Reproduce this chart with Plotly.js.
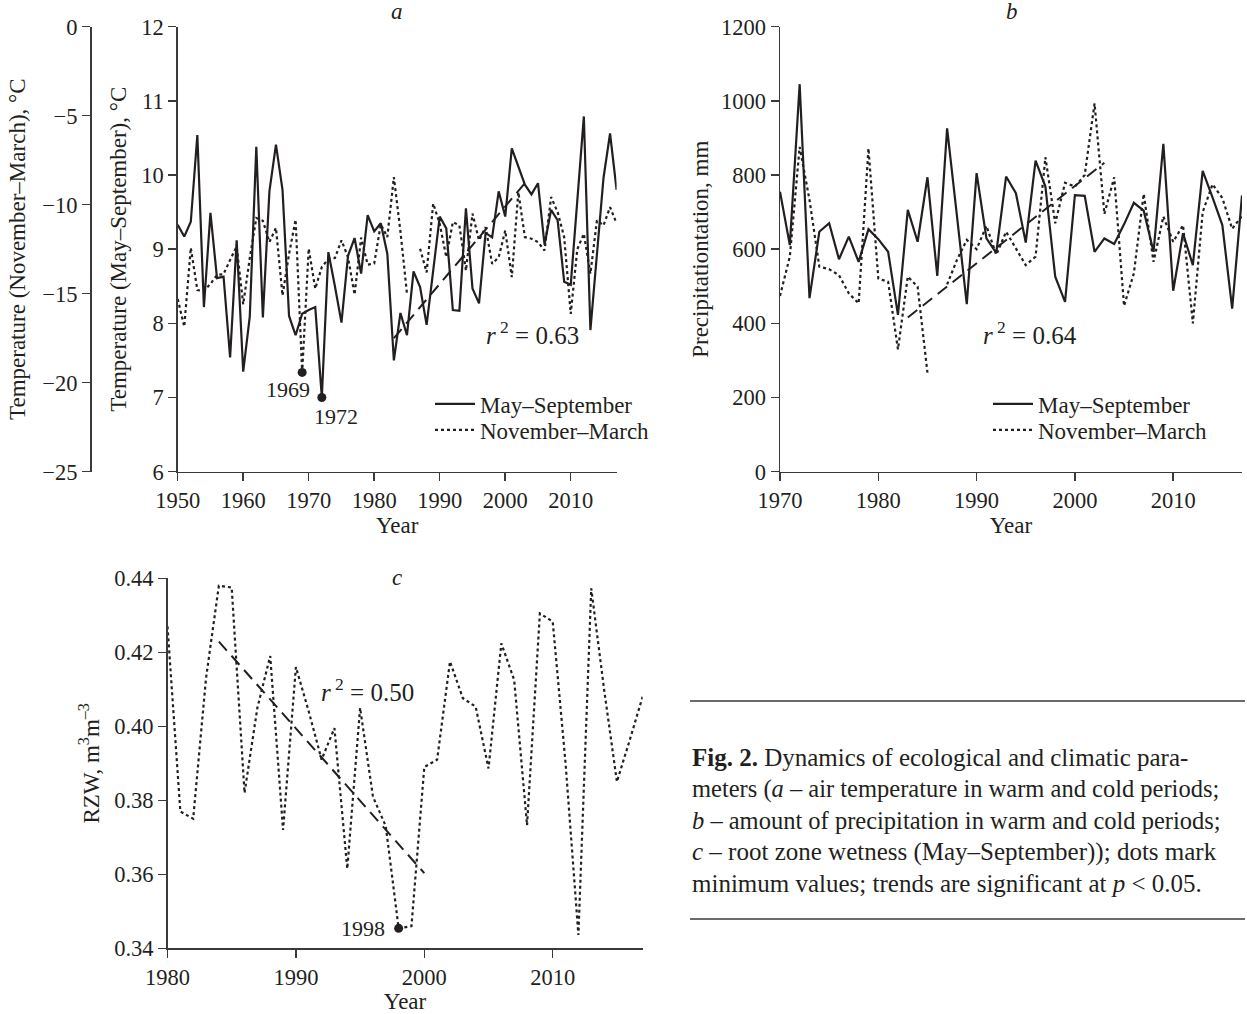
<!DOCTYPE html>
<html>
<head>
<meta charset="utf-8">
<script src="https://cdn.plot.ly/plotly-3.0.1.min.js"></script>
<style>html,body{margin:0;padding:0;background:#fff;}#chart{width:1247px;height:1014px;}</style>
</head>
<body>
<div id="chart"></div>
<script>
// ---------- Panel a: air temperature ----------
const yearsA = [1950,1951,1952,1953,1954,1955,1956,1957,1958,1959,1960,1961,1962,1963,1964,1965,1966,1967,1968,1969,
  1970,1971,1972,1973,1974,1975,1976,1977,1978,1979,1980,1981,1982,1983,1984,1985,1986,1987,1988,1989,
  1990,1991,1992,1993,1994,1995,1996,1997,1998,1999,2000,2001,2002,2003,2004,2005,2006,2007,2008,2009,
  2010,2011,2012,2013,2014,2015,2016,2017];
const tempWarm = [9.33,9.17,9.37,10.54,8.22,9.49,8.61,8.63,7.54,9.12,7.35,8.09,10.38,8.08,9.78,10.41,9.80,8.10,7.84,8.13,
  8.18,8.22,7.00,8.96,8.50,8.01,8.91,9.15,8.67,9.46,9.24,9.35,8.94,7.50,8.14,7.84,8.70,8.49,7.98,8.70,
  9.44,9.28,8.18,8.17,9.55,8.47,8.27,9.22,9.16,9.78,9.44,10.36,10.12,9.87,9.74,9.89,9.06,9.53,9.39,8.56,
  8.52,9.60,10.79,7.91,8.95,9.96,10.56,9.80];
const tempCold = [-15.3,-16.85,-12.42,-14.8,-14.85,-14.45,-13.95,-13.9,-13.1,-12.35,-15.6,-13.0,-10.75,-10.9,-12.1,-11.3,-15.1,-12.76,-10.84,-19.42,
  -12.47,-14.72,-13.5,-13.04,-13.0,-12.0,-12.95,-15.05,-11.85,-13.37,-13.3,-11.1,-11.82,-8.45,-11.5,-15.0,null,-12.47,-13.8,-9.94,
  -11.07,-12.95,-10.98,-11.16,-13.7,-10.5,-12.0,-11.26,-13.32,-12.95,-11.45,-14.07,-9.29,-11.82,-11.91,-12.1,-12.57,-9.57,-10.42,-11.82,
  -16.13,-12.5,-11.63,-13.88,-10.88,-11.16,-10.14,-11.04];
const trendAx = [1983, 2003];
const trendAy = [7.80, 9.89];
const minColdYear = [1969], minColdVal = [-19.42];
const minWarmYear = [1972], minWarmVal = [7.00];

// ---------- Panel b: precipitation ----------
const yearsB = [1970,1971,1972,1973,1974,1975,1976,1977,1978,1979,1980,1981,1982,1983,1984,1985,1986,1987,1988,1989,
  1990,1991,1992,1993,1994,1995,1996,1997,1998,1999,2000,2001,2002,2003,2004,2005,2006,2007,2008,2009,
  2010,2011,2012,2013,2014,2015,2016,2017];
const precWarm = [755,611,1045,468,647,670,573,634,566,654,627,593,423,706,620,794,528,926,690,452,
  805,629,590,796,751,618,839,769,526,458,746,744,593,629,614,667,725,704,593,884,
  488,643,557,811,740,665,440,745];
const precCold = [474,580,876,733,553,546,530,481,454,872,521,512,330,526,499,267,null,505,571,625,
  600,663,585,647,602,557,580,848,670,779,769,800,993,695,794,447,535,749,566,688,
  620,665,400,700,775,738,655,690];
const trendBx = [1983, 2003];
const trendBy = [416, 833];

// ---------- Panel c: root zone wetness ----------
const yearsC = [1980,1981,1982,1983,1984,1985,1986,1987,1988,1989,1990,1991,1992,1993,1994,1995,1996,1997,1998,1999,
  2000,2001,2002,2003,2004,2005,2006,2007,2008,2009,2010,2011,2012,2013,2014,2015,2016,2017];
const rzw = [0.427,0.377,0.375,0.413,0.438,0.4375,0.382,0.405,0.419,0.372,0.416,0.404,0.391,0.3995,0.3615,0.405,0.381,0.373,0.3454,0.346,
  0.389,0.391,0.4175,0.4076,0.4053,0.3886,0.4224,0.4125,0.3733,0.4305,0.4283,0.39,0.3436,0.4373,0.41,0.385,0.3963,0.408];
const trendCx = [1984, 2000];
const trendCy = [0.4229, 0.3603];
const minRzwYear = [1998], minRzwVal = [0.3454];

const tickYearsA = [1950,1960,1970,1980,1990,2000,2010];
const tickYearsB = [1970,1980,1990,2000,2010];
const tickYearsC = [1980,1990,2000,2010];

const INK = '#231f20';
const FONT = 'Liberation Serif, Times New Roman, serif';
const solid = {color: INK, width: 2.2, dash: 'solid'};
const dotted = {color: INK, width: 2.2, dash: 'dot'};
const dashed = {color: INK, width: 2, dash: '12px,7px'};

const traces = [
  {x: yearsA, y: tempWarm, xaxis: 'x', yaxis: 'y', mode: 'lines', line: solid, name: 'May–September', legend: 'legend'},
  {x: yearsA, y: tempCold, xaxis: 'x', yaxis: 'y2', mode: 'lines', line: dotted, name: 'November–March', legend: 'legend3', connectgaps: false},
  {x: trendAx, y: trendAy, xaxis: 'x', yaxis: 'y', mode: 'lines', line: dashed, showlegend: false},
  {x: minColdYear, y: minColdVal, xaxis: 'x', yaxis: 'y2', mode: 'markers', marker: {color: INK, size: 9}, showlegend: false},
  {x: minWarmYear, y: minWarmVal, xaxis: 'x', yaxis: 'y', mode: 'markers', marker: {color: INK, size: 9}, showlegend: false, cliponaxis: false},

  {x: yearsB, y: precWarm, xaxis: 'x2', yaxis: 'y3', mode: 'lines', line: solid, name: 'May–September', legend: 'legend2'},
  {x: yearsB, y: precCold, xaxis: 'x2', yaxis: 'y3', mode: 'lines', line: dotted, name: 'November–March', legend: 'legend4', connectgaps: false},
  {x: trendBx, y: trendBy, xaxis: 'x2', yaxis: 'y3', mode: 'lines', line: dashed, showlegend: false},

  {x: yearsC, y: rzw, xaxis: 'x3', yaxis: 'y4', mode: 'lines', line: dotted, showlegend: false},
  {x: trendCx, y: trendCy, xaxis: 'x3', yaxis: 'y4', mode: 'lines', line: dashed, showlegend: false},
  {x: minRzwYear, y: minRzwVal, xaxis: 'x3', yaxis: 'y4', mode: 'markers', marker: {color: INK, size: 9}, showlegend: false}
];

const W = 1247, H = 1014;
const px = v => v / W;
const py = v => 1 - v / H;

const axBase = {
  showline: true, linecolor: '#3a3a3a', linewidth: 1.5, ticks: 'outside', ticklen: 8, tickwidth: 1.5,
  tickcolor: '#3a3a3a', showgrid: false, zeroline: false, tickfont: {family: FONT, size: 22.5, color: INK},
  fixedrange: true
};
const ttl = (text, standoff) => ({text: text, font: {family: FONT, size: 23, color: INK}, standoff: standoff});
const txt = (size) => ({family: FONT, size: size, color: INK});
const paperNote = (text, x, y, size, extra) => Object.assign({text: text, xref: 'paper', yref: 'paper', x: px(x), y: py(y), xanchor: 'center', yanchor: 'middle', showarrow: false, font: txt(size)}, extra || {});
const legendAt = (x, y) => ({x: px(x), y: py(y), xanchor: 'left', yanchor: 'middle', bgcolor: 'rgba(0,0,0,0)', font: txt(23), itemwidth: 40});

const layout = {
  width: W, height: H,
  margin: {l: 0, r: 0, t: 0, b: 0},
  paper_bgcolor: '#ffffff', plot_bgcolor: 'rgba(0,0,0,0)',
  font: {family: FONT, color: INK, size: 22},
  xaxis: Object.assign({}, axBase, {domain: [px(177.7), px(616.6)], range: [1950, 2017], tickvals: tickYearsA, anchor: 'y', title: ttl('Year', 4)}),
  yaxis: Object.assign({}, axBase, {domain: [py(471.7), py(26.7)], range: [6, 12], dtick: 1, anchor: 'x', title: ttl('Temperature (May–September), °C', 8)}),
  yaxis2: Object.assign({}, axBase, {overlaying: 'y', anchor: 'free', position: px(90), side: 'left', range: [-25, 0], dtick: 5, title: ttl('Temperature (November–March), °C', 8)}),
  xaxis2: Object.assign({}, axBase, {domain: [px(780), px(1242)], range: [1970, 2017], tickvals: tickYearsB, anchor: 'y3', title: ttl('Year', 4)}),
  yaxis3: Object.assign({}, axBase, {domain: [py(471.7), py(26.7)], range: [0, 1200], dtick: 200, anchor: 'x2', title: ttl('Precipitationtation, mm', 6)}),
  xaxis3: Object.assign({}, axBase, {domain: [px(167.5), px(642.6)], range: [1980, 2017], tickvals: tickYearsC, anchor: 'y4', title: ttl('Year', 2)}),
  yaxis4: Object.assign({}, axBase, {domain: [py(948.3), py(578.3)], range: [0.34, 0.44], dtick: 0.02, tickformat: '.2f', anchor: 'x3', title: ttl('RZW, m<sup>3</sup>m<sup>–3</sup>', 8)}),
  legend: legendAt(430, 404),
  legend3: legendAt(430, 430),
  legend2: legendAt(988, 404),
  legend4: legendAt(988, 430),
  shapes: [
    {type: 'line', xref: 'paper', yref: 'paper', x0: px(690), x1: px(1245), y0: py(701), y1: py(701), line: {color: '#3a3a3a', width: 1.5}},
    {type: 'line', xref: 'paper', yref: 'paper', x0: px(690), x1: px(1245), y0: py(919), y1: py(919), line: {color: '#3a3a3a', width: 1.5}}
  ],
  annotations: [
    paperNote('<i>a</i>', 397, 12, 23),
    paperNote('<i>b</i>', 1012, 12, 23),
    paperNote('<i>c</i>', 397, 577, 23),
    paperNote('<i>r</i><sup> 2</sup> = 0.63', 532, 333, 25),
    paperNote('<i>r</i><sup> 2</sup> = 0.64', 1030, 333, 25),
    paperNote('<i>r</i><sup> 2</sup> = 0.50', 367, 690, 25),
    {text: '1969', xref: 'x', yref: 'y2', x: minColdYear[0], y: minColdVal[0], xshift: -14, yshift: -17, showarrow: false, font: txt(22)},
    {text: '1972', xref: 'x', yref: 'y', x: minWarmYear[0], y: minWarmVal[0], xshift: 14, yshift: -19, showarrow: false, font: txt(22)},
    {text: '1998', xref: 'x3', yref: 'y4', x: minRzwYear[0], y: minRzwVal[0], xshift: -36, yshift: 0, showarrow: false, font: txt(22)},
    paperNote('<b>Fig. 2.</b> Dynamics of ecological and climatic para-', 690, 757, 25, {xanchor: 'left'}),
    paperNote('meters (<i>a</i> – air temperature in warm and cold periods;', 690, 789, 24.5, {xanchor: 'left'}),
    paperNote('<i>b</i> – amount of precipitation in warm and cold periods;', 690, 820, 24.5, {xanchor: 'left'}),
    paperNote('<i>c</i> – root zone wetness (May–September)); dots mark', 690, 852, 25, {xanchor: 'left'}),
    paperNote('minimum values; trends are significant at <i>p</i> < 0.05.', 690, 883, 25, {xanchor: 'left'})
  ]
};

Plotly.newPlot('chart', traces, layout, {displayModeBar: false, staticPlot: true});
</script>
</body>
</html>
